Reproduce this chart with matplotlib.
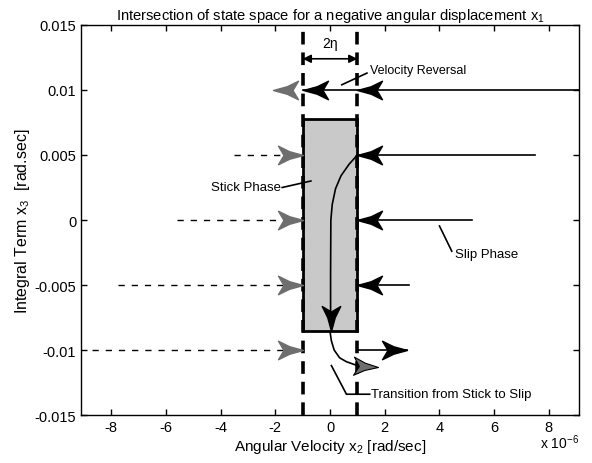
import numpy as np
import matplotlib
matplotlib.use("Agg")
import matplotlib.pyplot as plt
from matplotlib.path import Path

plt.rcParams['font.family'] = ['Liberation Sans', 'DejaVu Sans']
plt.rcParams['axes.unicode_minus'] = False

# x values are in units of 1e-6 rad/sec
eta = 1.0
box_x = [-1.0, 1.0]
box_y = [-0.0085, 0.0078]

# trajectories entering the stick band from both sides
levels = [0.005, 0.0, -0.005]
left_start = [-3.5, -5.6, -7.75]
right_start = [7.5, 5.2, 2.9]

# velocity reversal trajectory
rev_y = 0.01
rev_start = 9.1
rev_tip = -2.1

# lowest trajectory, slips out to the right
low_y = -0.01
low_left_start = -8.7
low_right_tip = 2.8

# stick phase path inside the band
stick_x = [1.0, 0.7, 0.4, 0.2, 0.08, 0.03, 0.02, 0.02]
stick_y = [0.005, 0.0043, 0.0034, 0.0024, 0.0012, 0.0, -0.004, -0.0080]

# transition from stick to slip
trans_x = [0.0, 0.05, 0.15, 0.35, 0.6, 1.0, 1.5]
trans_y = [-0.0086, -0.0093, -0.0100, -0.0106, -0.0109, -0.0112, -0.0113]

xticks = [-8, -6, -4, -2, 0, 2, 4, 6, 8]
yticks = [-0.015, -0.01, -0.005, 0, 0.005, 0.01, 0.015]
ytick_labels = ['-0.015', '-0.01', '-0.005', '0', '0.005', '0.01', '0.015']

# barbed arrowhead marker, tip at origin
head_verts = [(0, 0), (-0.55, 0.15), (-1, 0.37), (-0.78, 0),
              (-1, -0.37), (-0.55, -0.15), (0, 0)]
head_codes = [Path.MOVETO] + [Path.LINETO] * 5 + [Path.CLOSEPOLY]


def head(angle):
    a = np.deg2rad(angle)
    c, s = np.cos(a), np.sin(a)
    v = [(x * c - y * s, x * s + y * c) for x, y in head_verts]
    return Path(v, head_codes)


RIGHT = head(0)
LEFT = head(180)
DOWN = head(-90)
GRAY = '#6e6e6e'
HS = 36

fig = plt.figure(figsize=(5.92, 4.64), dpi=100)
ax = fig.add_axes([0.137, 0.1034, 0.841, 0.8406])

# stick band
ax.fill([box_x[0], box_x[1], box_x[1], box_x[0]],
        [box_y[0], box_y[0], box_y[1], box_y[1]],
        facecolor='#c9c9c9', edgecolor='black', linewidth=2, zorder=2)
ax.axvline(-eta, color='black', linewidth=2.6, dashes=(3.5, 2.2), zorder=3)
ax.axvline(eta, color='black', linewidth=2.6, dashes=(3.5, 2.2), zorder=3)

for y, xl, xr in zip(levels, left_start, right_start):
    ax.plot([xl, -eta], [y, y], color='black', linewidth=1, dashes=(4.5, 5), zorder=3)
    ax.plot([-eta], [y], marker=RIGHT, markersize=HS, color=GRAY, zorder=4)
    ax.plot([eta, xr], [y, y], color='black', linewidth=1.2, zorder=3)
    ax.plot([eta], [y], marker=LEFT, markersize=HS, color='black', zorder=4)

# velocity reversal
ax.plot([-eta, rev_start], [rev_y, rev_y], color='black', linewidth=1.2, zorder=3)
ax.plot([eta], [rev_y], marker=LEFT, markersize=HS, color='black', zorder=4)
ax.plot([-eta], [rev_y], marker=LEFT, markersize=HS, color='black', zorder=4)
ax.plot([rev_tip], [rev_y], marker=LEFT, markersize=HS, color=GRAY, zorder=4)

# lowest level
ax.plot([low_left_start, -eta], [low_y, low_y], color='black', linewidth=1, dashes=(4.5, 5), zorder=3)
ax.plot([-eta], [low_y], marker=RIGHT, markersize=HS, color=GRAY, zorder=4)
ax.plot([eta, low_right_tip], [low_y, low_y], color='black', linewidth=1.2, zorder=3)
ax.plot([low_right_tip], [low_y], marker=RIGHT, markersize=HS, color='black', zorder=4)

# stick and transition paths
ax.plot(stick_x, stick_y, color='black', linewidth=1.2, zorder=5)
ax.plot([stick_x[-1]], [box_y[0]], marker=DOWN, markersize=HS, color='black', zorder=5)
ax.plot(trans_x, trans_y, color='black', linewidth=1.2, zorder=5)
ax.plot([1.75], [trans_y[-1]], marker=head(-3), markersize=HS, color=GRAY,
        markeredgecolor='black', markeredgewidth=0.8, zorder=5)

# annotations
ax.annotate('', xy=(-eta, 0.0124), xytext=(eta, 0.0124),
            arrowprops=dict(arrowstyle='<|-|>', color='black', linewidth=1.2,
                            shrinkA=0, shrinkB=0, mutation_scale=12))
ax.text(0, 0.0131, '2η', ha='center', va='bottom', fontsize=10)

ax.plot([0.43, 1.35], [0.0104, 0.0113], color='black', linewidth=1.2, zorder=5)
ax.text(1.45, 0.01155, 'Velocity Reversal', ha='left', va='center', fontsize=9)

ax.plot([-1.75, -0.7], [0.0025, 0.003], color='black', linewidth=1.2, zorder=5)
ax.text(-1.8, 0.0025, 'Stick Phase', ha='right', va='center', fontsize=9.5)

ax.plot([4.0, 4.45], [-0.00046, -0.0024], color='black', linewidth=1.2, zorder=5)
ax.text(4.55, -0.0026, 'Slip Phase', ha='left', va='center', fontsize=9.5)

ax.plot([0.05, 0.6, 1.45], [-0.0112, -0.0134, -0.0134], color='black', linewidth=1.2, zorder=5)
ax.text(1.5, -0.0134, 'Transition from Stick to Slip', ha='left', va='center', fontsize=9.5)

ax.set_xlim(-9.1, 9.1)
ax.set_ylim(-0.015, 0.015)
ax.set_xticks(xticks)
ax.set_yticks(yticks)
ax.set_yticklabels(ytick_labels)
ax.tick_params(direction='in', top=True, right=True, labelsize=10.5, length=4, width=1)
for s in ax.spines.values():
    s.set_linewidth(1)

ax.set_title('Intersection of state space for a negative angular displacement $\\mathregular{x_1}$',
             fontsize=10.6, pad=4)
ax.set_xlabel('Angular Velocity $\\mathregular{x_2}$ [rad/sec]', fontsize=11, labelpad=2)
ax.set_ylabel('Integral Term $\\mathregular{x_3}$  [rad.sec]', fontsize=11.5, labelpad=2)
ax.text(1.0, -0.045, 'x 10$^{\\mathregular{-6}}$', transform=ax.transAxes,
        ha='right', va='top', fontsize=10)

fig.savefig('out.png', dpi=100)
